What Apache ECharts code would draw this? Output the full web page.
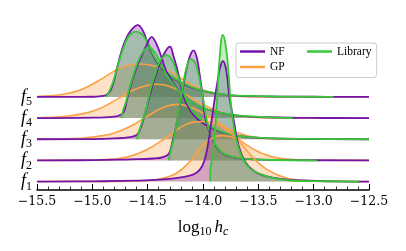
<!DOCTYPE html>
<html><head><meta charset="utf-8">
<script src="https://cdn.jsdelivr.net/npm/echarts@6/dist/echarts.min.js"></script>
<style>html,body{margin:0;padding:0;background:#fff}#c{width:406px;height:251px}</style>
</head><body><div id="c"></div>
<script>
// ---- data ----
const rowNames = ['f1', 'f2', 'f3', 'f4', 'f5'];
const seriesNames = ['NF', 'GP', 'Library'];
const xTicks = [-15.5, -15.0, -14.5, -14.0, -13.5, -13.0, -12.5];

// density curves, [log10 hc, density]
const gpF5 = [[-15.5,0.02],[-15.4,0.05],[-15.26,0.13],[-15.11,0.33],[-14.96,0.72],[-14.81,1.2],[-14.69,1.48],[-14.57,1.56],[-14.45,1.48],[-14.3,1.2],[-14.15,0.72],[-14.0,0.33],[-13.84,0.13],[-13.69,0.04],[-13.5,0.01],[-12.5,0]];
const nfF5 = [[-15.5,0],[-15.0,0.01],[-14.92,0.04],[-14.87,0.1],[-14.82,0.5],[-14.78,1.3],[-14.74,2.1],[-14.70,2.7],[-14.65,3.15],[-14.59,3.40],[-14.54,3.1],[-14.50,2.55],[-14.45,1.95],[-14.39,1.45],[-14.30,1.0],[-14.18,0.62],[-14.06,0.37],[-13.9,0.18],[-13.75,0.08],[-13.5,0.03],[-13.0,0.01],[-12.5,0]];
const libF5 = [[-14.875,0],[-14.84,0.35],[-14.81,0.75],[-14.77,1.5],[-14.72,2.3],[-14.68,2.8],[-14.64,3.03],[-14.605,3.09],[-14.57,3.03],[-14.54,2.9],[-14.49,2.5],[-14.45,2.0],[-14.39,1.5],[-14.3,1.04],[-14.18,0.65],[-14.06,0.38],[-13.9,0.19],[-13.75,0.09],[-13.6,0.05],[-13.3,0.02],[-12.82,0]];

const gpF4 = [[-15.5,0.02],[-15.26,0.08],[-15.11,0.19],[-14.96,0.39],[-14.81,0.79],[-14.66,1.26],[-14.51,1.54],[-14.42,1.6],[-14.3,1.5],[-14.15,1.1],[-14.0,0.63],[-13.84,0.28],[-13.69,0.11],[-13.5,0.03],[-13.2,0],[-12.5,0]];
const nfF4 = [[-15.5,0],[-15.0,0.02],[-14.85,0.05],[-14.77,0.1],[-14.72,0.25],[-14.69,0.8],[-14.65,1.6],[-14.60,2.4],[-14.55,3.0],[-14.51,3.45],[-14.464,3.83],[-14.42,3.5],[-14.37,2.8],[-14.33,2.2],[-14.24,1.45],[-14.15,0.95],[-14.03,0.55],[-13.87,0.28],[-13.69,0.12],[-13.45,0.04],[-13.0,0.01],[-12.5,0]];
const libF4 = [[-14.74,0],[-14.72,0.4],[-14.695,0.79],[-14.665,1.42],[-14.62,2.2],[-14.575,2.83],[-14.53,3.23],[-14.49,3.34],[-14.44,3.15],[-14.39,2.68],[-14.33,2.05],[-14.24,1.42],[-14.15,0.94],[-14.03,0.55],[-13.87,0.28],[-13.69,0.13],[-13.45,0.05],[-13.19,0]];

const gpF3 = [[-15.5,0.01],[-15.1,0.05],[-14.96,0.13],[-14.81,0.28],[-14.66,0.6],[-14.51,1.07],[-14.36,1.5],[-14.24,1.65],[-14.12,1.54],[-14.0,1.23],[-13.87,0.83],[-13.75,0.44],[-13.6,0.17],[-13.45,0.05],[-13.2,0],[-12.5,0]];
const nfF3 = [[-15.5,0],[-15.0,0.01],[-14.8,0.04],[-14.66,0.1],[-14.6,0.2],[-14.57,0.45],[-14.53,1.1],[-14.48,2.1],[-14.43,3.0],[-14.38,3.7],[-14.34,4.15],[-14.30,4.38],[-14.27,4.0],[-14.22,3.04],[-14.18,2.1],[-14.12,1.39],[-14.04,0.91],[-13.92,0.52],[-13.77,0.24],[-13.47,0.05],[-13.0,0.01],[-12.5,0]];
const libF3 = [[-14.6,0],[-14.57,0.52],[-14.52,1.3],[-14.48,2.25],[-14.43,3.12],[-14.39,3.67],[-14.33,3.98],[-14.28,3.75],[-14.24,3.2],[-14.19,2.49],[-14.15,1.86],[-14.09,1.31],[-13.99,0.83],[-13.87,0.44],[-13.72,0.2],[-13.51,0.08],[-13.27,0.03],[-12.9,0.01],[-12.5,0]];

const gpF2 = [[-15.5,0],[-15.0,0.02],[-14.81,0.06],[-14.66,0.19],[-14.51,0.5],[-14.36,0.98],[-14.21,1.53],[-14.09,1.81],[-14.0,1.84],[-13.87,1.69],[-13.75,1.29],[-13.63,0.82],[-13.51,0.43],[-13.39,0.19],[-13.24,0.06],[-13.0,0.01],[-12.5,0]];
const nfF2 = [[-15.5,0],[-15.0,0.01],[-14.66,0.05],[-14.45,0.09],[-14.36,0.16],[-14.31,0.3],[-14.28,0.8],[-14.24,1.7],[-14.21,2.6],[-14.18,3.5],[-14.15,4.3],[-14.12,4.9],[-14.086,5.2],[-14.055,4.83],[-14.03,4.05],[-14.0,2.94],[-13.98,2.0],[-13.93,1.21],[-13.87,0.58],[-13.76,0.19],[-13.58,0.06],[-13.2,0.01],[-12.5,0]];
const libF2 = [[-14.31,0],[-14.3,0.27],[-14.27,0.9],[-14.24,1.69],[-14.21,2.63],[-14.18,3.57],[-14.15,4.36],[-14.11,4.79],[-14.07,4.6],[-14.04,4.05],[-14.01,3.26],[-13.98,2.31],[-13.95,1.54],[-13.9,0.9],[-13.84,0.43],[-13.75,0.19],[-13.63,0.08],[-13.45,0.03],[-12.97,0]];

const gpF1 = [[-15.5,0],[-14.7,0.01],[-14.5,0.05],[-14.36,0.16],[-14.24,0.39],[-14.12,0.94],[-14.03,1.57],[-13.94,1.97],[-13.84,2.17],[-13.75,2.13],[-13.66,1.81],[-13.57,1.26],[-13.48,0.79],[-13.36,0.39],[-13.24,0.16],[-13.09,0.05],[-12.9,0.01],[-12.5,0]];
const nfF1 = [[-15.5,0],[-15.0,0.01],[-14.6,0.04],[-14.36,0.1],[-14.2,0.2],[-14.09,0.33],[-14.03,0.55],[-13.99,0.95],[-13.96,1.6],[-13.93,2.6],[-13.9,3.7],[-13.87,4.7],[-13.845,5.4],[-13.82,5.7],[-13.8,5.51],[-13.78,4.88],[-13.76,3.94],[-13.72,2.83],[-13.68,1.73],[-13.62,0.94],[-13.54,0.5],[-13.45,0.28],[-13.3,0.13],[-13.09,0.05],[-12.8,0.01],[-12.5,0]];
const libF1 = [[-13.935,0],[-13.935,0.45],[-13.91,1.26],[-13.89,2.52],[-13.87,4.1],[-13.85,5.83],[-13.82,6.93],[-13.796,6.46],[-13.77,5.2],[-13.75,3.78],[-13.72,2.52],[-13.68,1.6],[-13.63,0.98],[-13.57,0.6],[-13.48,0.35],[-13.36,0.16],[-13.21,0.05],[-13.0,0.02],[-12.59,0]];

const rowsGP = [gpF1, gpF2, gpF3, gpF4, gpF5];
const rowsNF = [nfF1, nfF2, nfF3, nfF4, nfF5];
const rowsLib = [libF1, libF2, libF3, libF4, libF5];

// ---- styles ----
const COL = { NF: '#7414aa', GP: '#fca044', Library: '#36c836' };
const FILL = { NF: 'rgba(116,20,170,0.30)', GP: 'rgba(252,160,68,0.30)', Library: 'rgba(54,200,54,0.30)' };
const LW = { NF: 1.8, GP: 1.6, Library: 1.8 };

function mk(name, pts, off) {
  return {
    type: 'line', name: name,
    data: pts.map(p => [p[0], p[1] + off]),
    smooth: 0.45,
    symbol: 'none', showSymbol: false,
    color: COL[name],
    lineStyle: { color: COL[name], width: LW[name], join: 'round' },
    areaStyle: { origin: off, color: FILL[name], opacity: 1 },
    silent: true, animation: false
  };
}

const series = [];
for (let r = rowNames.length - 1; r >= 0; r--) {
  series.push(mk('GP', rowsGP[r], r));
  series.push(mk('NF', rowsNF[r], r));
  series.push(mk('Library', rowsLib[r], r));
}

const serif = 'Liberation Serif, Times New Roman, serif';
const mathFont = 'DejaVu Serif, serif';

const chart = echarts.init(document.getElementById('c'), null, { renderer: 'canvas' });
chart.setOption({
  animation: false,
  backgroundColor: '#ffffff',
  grid: { left: 37, right: 37, top: 12.4, bottom: 61, containLabel: false },
  xAxis: {
    type: 'value', min: xTicks[0], max: xTicks[xTicks.length - 1], interval: 0.5,
    axisLine: { show: true, onZero: false, lineStyle: { color: '#000', width: 1.6 } },
    axisTick: { show: true, inside: true, length: 6, lineStyle: { color: '#000', width: 1 } },
    minorTick: { show: true, splitNumber: 5, length: 3.5, lineStyle: { color: '#000', width: 0.8 } },
    splitLine: { show: false },
    axisLabel: {
      color: '#000', fontFamily: mathFont, fontSize: 12.5, margin: 5,
      formatter: v => (v < 0 ? '\u2212' : '') + Math.abs(v).toFixed(1)
    },
    name: '{l|log}{s|10}{h|h}{c|c}',
    nameLocation: 'middle', nameGap: 27,
    nameTextStyle: {
      color: '#000',
      rich: {
        l: { fontFamily: serif, fontSize: 17, color: '#000' },
        s: { fontFamily: serif, fontSize: 12, color: '#000', padding: [9, 0, 0, 0] },
        h: { fontFamily: serif, fontSize: 17, fontStyle: 'italic', color: '#000', padding: [0, 0, 0, 3] },
        c: { fontFamily: serif, fontSize: 12, fontStyle: 'italic', color: '#000', padding: [9, 0, 0, 0] }
      }
    }
  },
  yAxis: {
    type: 'value', min: -0.4, max: 8,
    axisLine: { show: false }, axisTick: { show: false }, splitLine: { show: false },
    axisLabel: {
      customValues: [0, 1, 2, 3, 4],
      margin: 5,
      formatter: v => '{f|f}{s|' + rowNames[Math.round(v)].slice(1) + '}',
      rich: {
        f: { fontFamily: serif, fontStyle: 'italic', fontSize: 18, color: '#000' },
        s: { fontFamily: serif, fontSize: 12, color: '#000', padding: [10, 0, 0, 0] }
      }
    }
  },
  legend: [
    {
      data: [{ name: 'NF' }, { name: 'GP' }],
      orient: 'vertical', left: 236, top: 43,
      padding: [2, 92, 4, 4],
      itemWidth: 25, itemHeight: 2.5, itemGap: 2.5, icon: 'rect',
      backgroundColor: 'rgba(255,255,255,0.8)', borderColor: '#cccccc', borderWidth: 1, borderRadius: 3,
      textStyle: { fontFamily: serif, fontSize: 11.5, color: '#000', lineHeight: 13 },
      selectedMode: false
    },
    {
      data: [{ name: 'Library' }],
      orient: 'vertical', left: 307, top: 45,
      padding: 0,
      itemWidth: 25, itemHeight: 2.5, icon: 'rect',
      textStyle: { fontFamily: serif, fontSize: 11.5, color: '#000', lineHeight: 13 },
      selectedMode: false
    }
  ],
  series: series
});
</script>
</body></html>
